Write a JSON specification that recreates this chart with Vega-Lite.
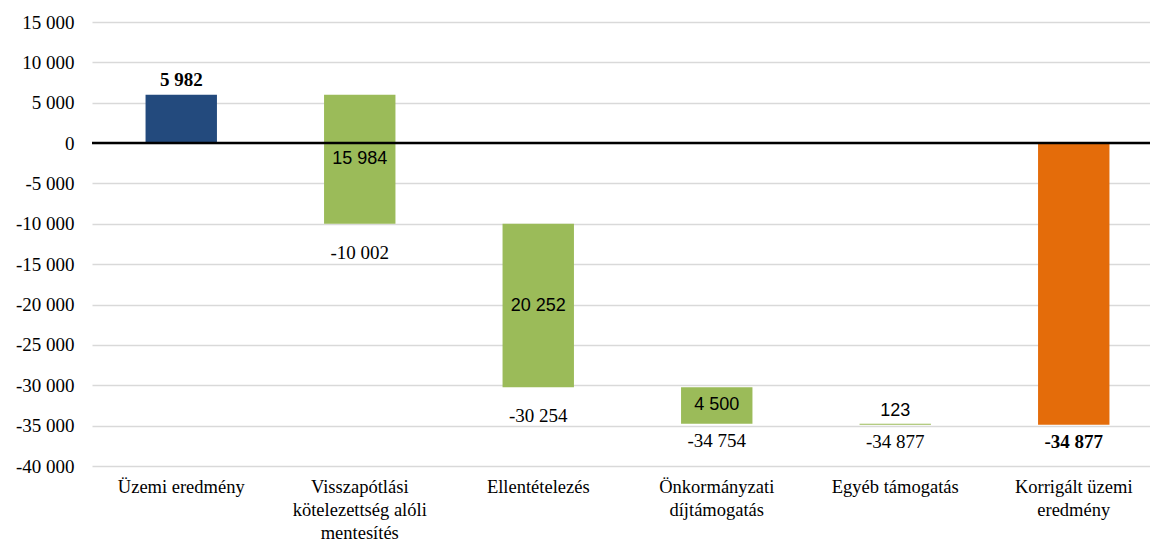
{
  "$schema": "https://vega.github.io/schema/vega-lite/v6.json",
  "autosize": {"type": "none"},
  "padding": {"left": 92, "top": 22, "right": 0, "bottom": 80},
  "width": 1071,
  "height": 444,
  "background": "white",
  "config": {
    "locale": {"number": {"decimal": ",", "thousands": " ", "grouping": [3], "currency": ["", ""], "minus": "-"}},
    "view": {"stroke": null},
    "font": "Liberation Serif"
  },
  "data": {"values": [
    {"cat": "Üzemi eredmény", "start": 0, "end": 5982, "value": 5982, "type": "total"},
    {"cat": "Visszapótlási kötelezettség alóli mentesítés", "start": 5982, "end": -10002, "value": 15984, "type": "delta"},
    {"cat": "Ellentételezés", "start": -10002, "end": -30254, "value": 20252, "type": "delta"},
    {"cat": "Önkormányzati díjtámogatás", "start": -30254, "end": -34754, "value": 4500, "type": "delta"},
    {"cat": "Egyéb támogatás", "start": -34754, "end": -34877, "value": 123, "type": "delta"},
    {"cat": "Korrigált üzemi eredmény", "start": 0, "end": -34877, "value": -34877, "type": "final"}
  ]},
  "encoding": {
    "x": {
      "field": "cat", "type": "nominal", "sort": null,
      "scale": {"paddingInner": 0.6, "paddingOuter": 0.3},
      "axis": {
        "title": null, "domain": false, "ticks": false, "labelAngle": 0,
        "labelFont": "Liberation Serif", "labelFontSize": 18.5, "labelColor": "#000000",
        "labelPadding": 11, "labelBaseline": "top", "labelLineHeight": 23, "labelLimit": 300,
        "labelExpr": "datum.label == 'Visszapótlási kötelezettség alóli mentesítés' ? ['Visszapótlási', 'kötelezettség alóli', 'mentesítés'] : datum.label == 'Önkormányzati díjtámogatás' ? ['Önkormányzati', 'díjtámogatás'] : datum.label == 'Korrigált üzemi eredmény' ? ['Korrigált üzemi', 'eredmény'] : datum.label"
      }
    }
  },
  "layer": [
    {
      "mark": {"type": "bar", "clip": false},
      "encoding": {
        "y": {
          "field": "start", "type": "quantitative",
          "scale": {"domain": [-40000, 15000], "nice": false, "zero": false},
          "axis": {
            "title": null, "domain": false, "ticks": false,
            "values": [-40000, -35000, -30000, -25000, -20000, -15000, -10000, -5000, 0, 5000, 10000, 15000],
            "format": ",d", "labelFont": "Liberation Serif", "labelFontSize": 19, "labelColor": "#000000",
            "labelPadding": 18, "grid": true, "gridColor": "#d9d9d9", "gridWidth": 1.3
          }
        },
        "y2": {"field": "end"},
        "color": {
          "field": "type", "type": "nominal", "legend": null,
          "scale": {"domain": ["total", "delta", "final"], "range": ["#234a7d", "#9bbb59", "#e46c0a"]}
        }
      }
    },
    {
      "data": {"values": [{"zero": 0}]},
      "mark": {"type": "rule", "color": "#000000", "strokeWidth": 2.5},
      "encoding": {"y": {"field": "zero", "type": "quantitative"}, "x": {"value": 0}, "x2": {"value": 1071}}
    },
    {
      "transform": [{"filter": "datum.type == 'total'"}],
      "mark": {"type": "text", "dy": -15, "fontWeight": "bold", "fontSize": 19, "font": "Liberation Serif", "color": "#000000"},
      "encoding": {"y": {"field": "end", "type": "quantitative"}, "text": {"field": "value", "type": "quantitative", "format": ",d"}}
    },
    {
      "transform": [
        {"filter": "datum.type == 'delta' && datum.value > 1000"},
        {"calculate": "(datum.start + datum.end) / 2", "as": "mid"}
      ],
      "mark": {"type": "text", "fontSize": 18, "font": "Liberation Sans", "color": "#000000"},
      "encoding": {"y": {"field": "mid", "type": "quantitative"}, "text": {"field": "value", "type": "quantitative", "format": ",d"}}
    },
    {
      "transform": [{"filter": "datum.cat == 'Egyéb támogatás'"}],
      "mark": {"type": "text", "dy": -13, "fontSize": 18, "font": "Liberation Sans", "color": "#000000"},
      "encoding": {"y": {"field": "start", "type": "quantitative"}, "text": {"field": "value", "type": "quantitative", "format": ",d"}}
    },
    {
      "transform": [{"filter": "datum.type == 'delta' && datum.value > 10000"}],
      "mark": {"type": "text", "dy": 29, "fontSize": 19, "font": "Liberation Serif", "color": "#000000"},
      "encoding": {"y": {"field": "end", "type": "quantitative"}, "text": {"field": "end", "type": "quantitative", "format": ",d"}}
    },
    {
      "transform": [{"filter": "datum.type == 'delta' && datum.value < 10000"}],
      "mark": {"type": "text", "dy": 17, "fontSize": 19, "font": "Liberation Serif", "color": "#000000"},
      "encoding": {"y": {"field": "end", "type": "quantitative"}, "text": {"field": "end", "type": "quantitative", "format": ",d"}}
    },
    {
      "transform": [{"filter": "datum.type == 'final'"}],
      "mark": {"type": "text", "dy": 17, "fontWeight": "bold", "fontSize": 19, "font": "Liberation Serif", "color": "#000000"},
      "encoding": {"y": {"field": "end", "type": "quantitative"}, "text": {"field": "end", "type": "quantitative", "format": ",d"}}
    }
  ]
}
